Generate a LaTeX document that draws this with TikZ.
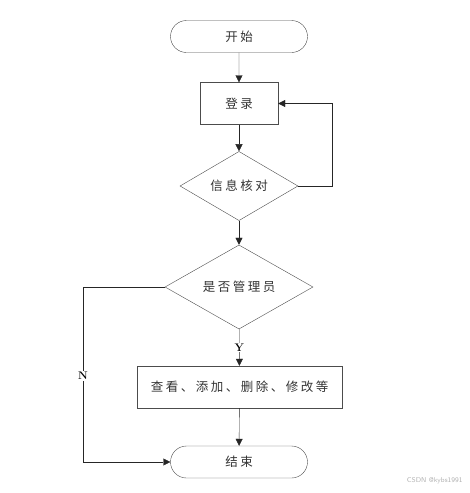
\documentclass[tikz,border=0pt]{standalone}
\usepackage{fontspec}
\newfontfamily\cjk[LetterSpace=20]{Noto Sans CJK SC}
\usepackage{tikz}
\usetikzlibrary{shapes.geometric, shapes.misc, arrows.meta, positioning}

\begin{document}
\begin{tikzpicture}[
  x=1pt, y=-1pt,
  font=\cjk\fontsize{12.5}{14}\selectfont, text=black!80,
  term/.style={draw=black!70, rounded rectangle, minimum width=137pt,
               minimum height=32pt, inner sep=0pt},
  proc/.style={draw=black!70, minimum height=42pt, inner sep=0pt},
  decide/.style={draw=black!70, diamond, inner sep=0pt},
  flow/.style={-{Triangle[length=7pt,width=7pt]}, black!85},
  yn/.style={font=\rmfamily\bfseries\fontsize{11}{12}\selectfont, fill=white,
             inner sep=1pt, text=black},
]
\useasboundingbox (0,0) rectangle (470,493);

% Flow chart nodes
\node[term]   (start) at (239,36.5) {开始};
\node[proc, minimum width=78pt] (login) at (239,103.5) {登录};
\node[decide, minimum width=118pt, minimum height=62pt] (check) at (239,186) {信息核对};
\node[decide, minimum width=148pt, minimum height=79pt] (admin) at (239,287) {是否管理员};
\node[proc, minimum width=205pt] (ops) at (239.5,387) {查看、添加、删除、修改等};
\node[term]   (finish) at (239,462) {结束};

% Turn points
\coordinate (back) at (332,186);
\coordinate (nturn) at (83,287);

% Main flow
\draw[flow] (start) -- (login);
\draw[flow] (login) -- (check);
\draw[flow] (check) -- (admin);
\draw[flow] (admin) -- node[yn, pos=0.5] {Y} (ops);
\draw[flow] (ops) -- (finish);

% Back to login
\draw[flow] (check.east) -- (back) |- (login.east);

% Not admin
\draw[flow] (admin.west) -- (nturn) |- (finish.west);
\node[yn] (nlabel) at (83,376) {N};

% Watermark
\node[font=\sffamily\fontsize{7}{8}\selectfont, text=black!30, anchor=east] (mark)
  at (466,481) {CSDN @kybs1991};
\end{tikzpicture}
\end{document}
